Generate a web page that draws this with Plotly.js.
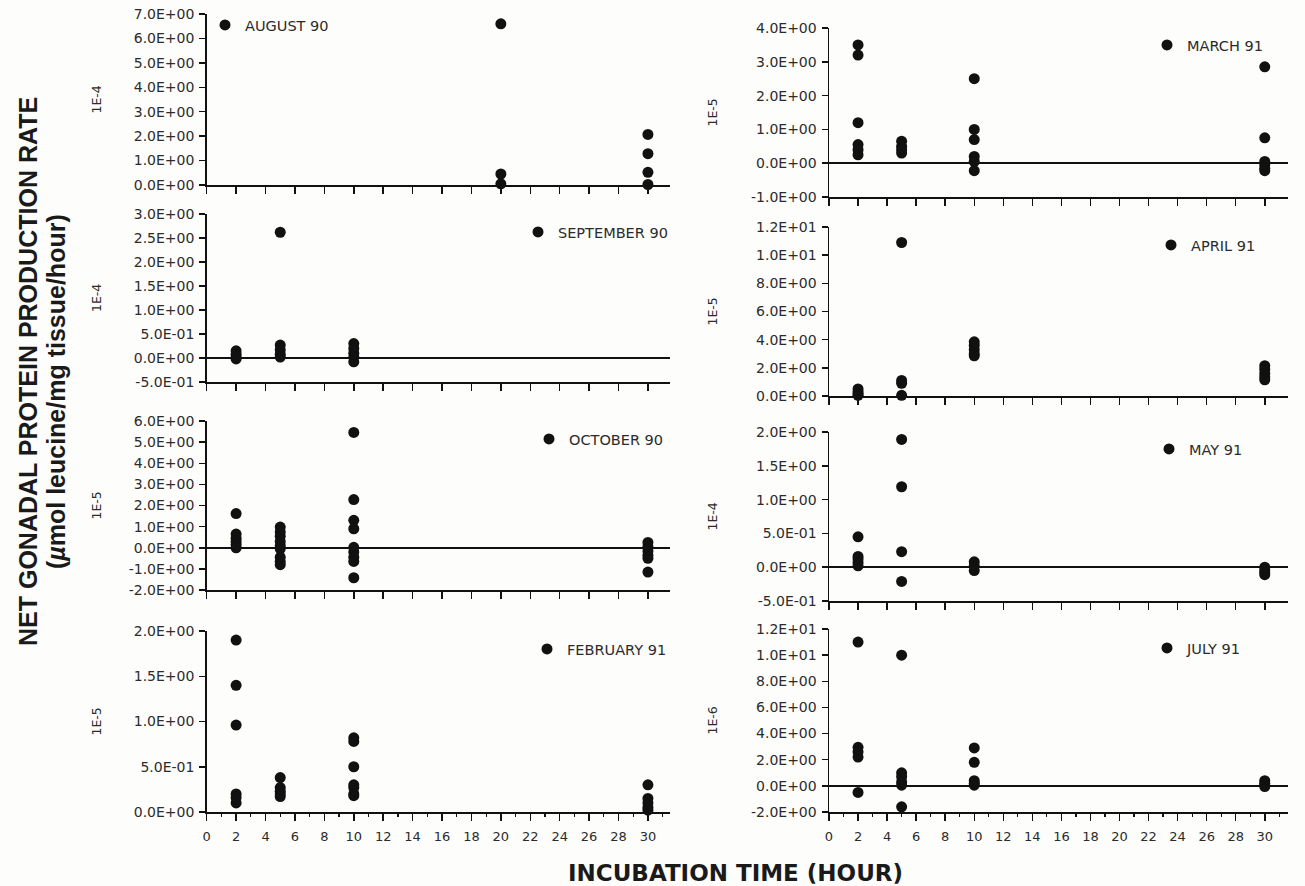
<!DOCTYPE html>
<html>
<head>
<meta charset="utf-8">
<script src="https://cdn.plot.ly/plotly-3.0.1.min.js"></script>
<style>html,body{margin:0;padding:0;background:#fdfdfb;}#chart{width:1305px;height:886px;}</style>
</head>
<body>
<div id="chart"></div>
<script>
// ---------- DATA ----------
const panelNames = ["AUGUST 90","SEPTEMBER 90","OCTOBER 90","FEBRUARY 91","MARCH 91","APRIL 91","MAY 91","JULY 91"];
const panelUnits = ["1E-4","1E-4","1E-5","1E-5","1E-5","1E-5","1E-4","1E-6"];

const aug90_hours = [20,20,20, 30,30,30,30];
const aug90_rate  = [6.6,0.45,0.05, 2.07,1.28,0.52,0.02];

const sep90_hours = [2,2,2,2, 5,5,5,5,5, 10,10,10,10,10];
const sep90_rate  = [0.15,0.08,0.02,-0.02, 2.62,0.27,0.17,0.08,0.02, 0.3,0.2,0.1,0.02,-0.08];

const oct90_hours = [2,2,2,2,2,2, 5,5,5,5,5,5,5,5,5, 10,10,10,10,10,10,10,10,10, 30,30,30,30,30,30];
const oct90_rate  = [1.62,0.65,0.45,0.3,0.15,0.0,
                     0.98,0.75,0.55,0.3,0.1,-0.05,-0.45,-0.65,-0.8,
                     5.46,2.28,1.3,0.9,0.02,-0.2,-0.45,-0.65,-1.42,
                     0.25,0.05,-0.15,-0.35,-0.5,-1.15];

const feb91_hours = [2,2,2,2,2,2, 5,5,5,5,5, 10,10,10,10,10,10,10, 30,30,30,30,30];
const feb91_rate  = [1.9,1.4,0.96,0.2,0.16,0.1,
                     0.38,0.27,0.23,0.2,0.17,
                     0.82,0.78,0.5,0.3,0.27,0.2,0.18,
                     0.3,0.15,0.1,0.05,0.02];

const mar91_hours = [2,2,2,2,2,2, 5,5,5,5, 10,10,10,10,10,10, 30,30,30,30,30,30];
const mar91_rate  = [3.5,3.2,1.2,0.55,0.4,0.25,
                     0.65,0.5,0.4,0.3,
                     2.5,1.0,0.7,0.2,0.05,-0.22,
                     2.85,0.75,0.05,-0.05,-0.15,-0.22];

const apr91_hours = [2,2,2,2, 5,5,5,5, 10,10,10,10,10, 30,30,30,30,30];
const apr91_rate  = [0.5,0.3,0.15,0.05,
                     10.9,1.1,0.9,0.05,
                     3.85,3.6,3.3,3.0,2.85,
                     2.15,1.9,1.6,1.35,1.15];

const may91_hours = [2,2,2,2,2, 5,5,5,5, 10,10,10, 30,30,30,30];
const may91_rate  = [0.45,0.16,0.12,0.07,0.02,
                     1.89,1.19,0.23,-0.21,
                     0.08,0.02,-0.05,
                     0.0,-0.04,-0.08,-0.11];

const jul91_hours = [2,2,2,2,2, 5,5,5,5,5,5, 10,10,10,10,10, 30,30,30,30];
const jul91_rate  = [11.0,2.95,2.6,2.2,-0.5,
                     10.0,1.0,0.7,0.3,0.05,-1.6,
                     2.9,1.8,0.4,0.2,0.05,
                     0.4,0.2,0.05,-0.05];

const panelHours = [aug90_hours, sep90_hours, oct90_hours, feb91_hours, mar91_hours, apr91_hours, may91_hours, jul91_hours];
const panelRates = [aug90_rate, sep90_rate, oct90_rate, feb91_rate, mar91_rate, apr91_rate, may91_rate, jul91_rate];

// y tick values per panel
const yTicks = [
  [0,1,2,3,4,5,6,7],
  [-0.5,0,0.5,1,1.5,2,2.5,3],
  [-2,-1,0,1,2,3,4,5,6],
  [0,0.5,1,1.5,2],
  [-1,0,1,2,3,4],
  [0,2,4,6,8,10,12],
  [-0.5,0,0.5,1,1.5,2],
  [-2,0,2,4,6,8,10,12]
];
const xTickVals = [0,2,4,6,8,10,12,14,16,18,20,22,24,26,28,30];
const xTickText = ["0","2","4","6","8","10","12","14","16","18","20","22","24","26","28","30"];

// ---------- LAYOUT (pixel geometry) ----------
const W = 1305, H = 886;
const colX = [[206.7, 670], [829, 1288]];
const colXMax = [31.5, 31.6];
const rowsY = [[14,185],[214,382],[421,590],[631,812],[28,197],[227,396],[432,601],[629,812]];
const legendPos = [[205,25],[518,232],[529,439],[527,649],[1147,45],[1151,245],[1149,449],[1147,648]];
const unitX = [96, 712];

function fmtE(v){
  if (v === 0) return "0.0E+00";
  let e = Math.floor(Math.log10(Math.abs(v)) + 1e-9);
  let m = v / Math.pow(10, e);
  let es = (e < 0 ? "-" : "+") + String(Math.abs(e)).padStart(2, "0");
  return m.toFixed(1) + "E" + es;
}

const FONT = "DejaVu Sans, Arial, sans-serif";
const TXT = "#2b2b2b";
const traces = [];
const layout = {
  width: W, height: H,
  margin: {l:0, r:0, t:0, b:0},
  paper_bgcolor: "#fdfdfb",
  plot_bgcolor: "rgba(0,0,0,0)",
  showlegend: true,
  annotations: []
};

for (let i = 0; i < 8; i++) {
  const col = i < 4 ? 0 : 1;
  const n = i + 1;
  const xa = n === 1 ? "xaxis" : "xaxis" + n;
  const ya = n === 1 ? "yaxis" : "yaxis" + n;
  const xr = n === 1 ? "x" : "x" + n;
  const yr = n === 1 ? "y" : "y" + n;
  const lg = n === 1 ? "legend" : "legend" + n;
  const isBottom = (i === 3 || i === 7);
  const yt = yTicks[i];

  traces.push({
    type: "scatter", mode: "markers",
    x: panelHours[i], y: panelRates[i],
    xaxis: xr, yaxis: yr,
    name: panelNames[i], legend: lg,
    cliponaxis: false,
    marker: {color: "#111", size: 11, line: {width: 0}},
    hoverinfo: "x+y"
  });

  layout[xa] = {
    domain: [colX[col][0]/W, colX[col][1]/W],
    anchor: yr,
    range: [0, colXMax[col]],
    showgrid: false, zeroline: false,
    showline: true, linecolor: "#111", linewidth: 1.5,
    ticks: "outside", ticklen: 7, tickwidth: 1.5, tickcolor: "#111",
    tickmode: "array", tickvals: xTickVals, ticktext: xTickText,
    showticklabels: isBottom,
    ticklabelstandoff: 5,
    tickfont: {family: FONT, size: 13, color: TXT}
  };
  if (isBottom) {
    layout[xa].minor = {dtick: 1, tick0: 0, ticks: "outside", ticklen: 3, tickwidth: 1.2, tickcolor: "#111"};
  }

  layout[ya] = {
    domain: [1 - rowsY[i][1]/H, 1 - rowsY[i][0]/H],
    anchor: xr,
    range: [yt[0], yt[yt.length-1]],
    showgrid: false,
    zeroline: true, zerolinecolor: "#111", zerolinewidth: 1.5,
    showline: true, linecolor: "#111", linewidth: 1.5,
    ticks: "outside", ticklen: 6, tickwidth: 1.5, tickcolor: "#111",
    tickmode: "array", tickvals: yt, ticktext: yt.map(fmtE),
    ticklabelstandoff: 2,
    tickfont: {family: FONT, size: 14, color: TXT}
  };

  layout[lg] = {
    x: legendPos[i][0]/W, y: 1 - legendPos[i][1]/H,
    xanchor: "left", yanchor: "middle",
    bgcolor: "rgba(0,0,0,0)", borderwidth: 0,
    itemwidth: 30,
    font: {family: FONT, size: 14.5, color: TXT}
  };

  layout.annotations.push({
    xref: "paper", yref: "paper",
    x: unitX[col]/W, y: 1 - (rowsY[i][0] + rowsY[i][1])/2/H,
    text: panelUnits[i], textangle: -90, showarrow: false,
    xanchor: "center", yanchor: "middle",
    font: {family: FONT, size: 12.5, color: TXT}
  });
}

layout.annotations.push({
  xref: "paper", yref: "paper", x: 28/W, y: 1 - 372/H,
  text: "NET GONADAL PROTEIN PRODUCTION RATE", textangle: -90, showarrow: false,
  xanchor: "center", yanchor: "middle",
  font: {family: "Liberation Sans, Arial, sans-serif", size: 25, color: "#1a1a1a", weight: "bold"}
});
layout.annotations.push({
  xref: "paper", yref: "paper", x: 56/W, y: 1 - 392/H,
  text: "(<i>µ</i>mol leucine/mg tissue/hour)", textangle: -90, showarrow: false,
  xanchor: "center", yanchor: "middle",
  font: {family: "Liberation Sans, Arial, sans-serif", size: 25, color: "#1a1a1a", weight: "bold"}
});
layout.annotations.push({
  xref: "paper", yref: "paper", x: 735/W, y: 1 - 873/H,
  text: "INCUBATION TIME (HOUR)", showarrow: false,
  xanchor: "center", yanchor: "middle",
  font: {family: "DejaVu Sans, Arial, sans-serif", size: 23, color: "#1a1a1a", weight: "bold"}
});

Plotly.newPlot("chart", traces, layout, {displayModeBar: false, staticPlot: true});
</script>
</body>
</html>
